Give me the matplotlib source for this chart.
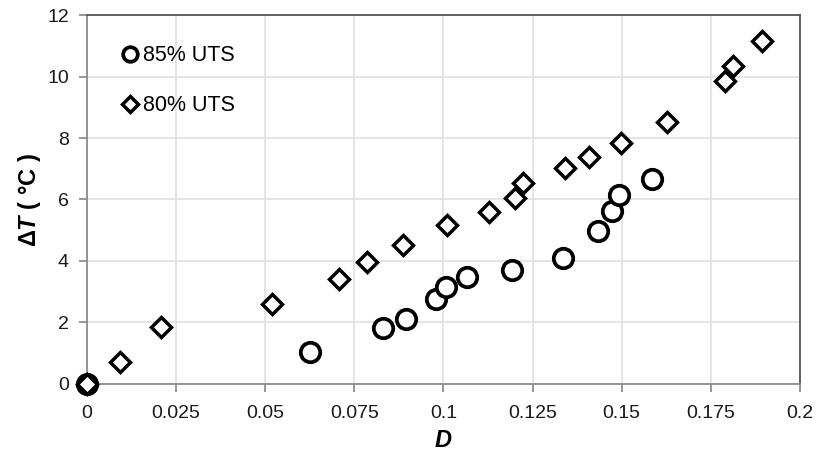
import matplotlib
matplotlib.use("Agg")
import matplotlib.pyplot as plt

# Data
d_85 = [0.0, 0.0626, 0.0830, 0.0895, 0.0980, 0.1006, 0.1067, 0.1193, 0.1335, 0.1434, 0.1472, 0.1492, 0.1586]
t_85 = [0.0, 1.04, 1.82, 2.11, 2.76, 3.14, 3.47, 3.69, 4.11, 4.98, 5.64, 6.15, 6.66]

d_80 = [0.0, 0.0093, 0.0209, 0.0518, 0.0707, 0.0785, 0.0886, 0.1009, 0.1128, 0.1201, 0.1224,
        0.1341, 0.1409, 0.1497, 0.1626, 0.1791, 0.1813, 0.1894]
t_80 = [0.0, 0.70, 1.84, 2.60, 3.40, 3.98, 4.52, 5.17, 5.60, 6.04, 6.55,
        7.01, 7.39, 7.85, 8.52, 9.85, 10.35, 11.16]

x_ticks = [0, 0.025, 0.05, 0.075, 0.1, 0.125, 0.15, 0.175, 0.2]
x_tick_labels = ["0", "0.025", "0.05", "0.075", "0.1", "0.125", "0.15", "0.175", "0.2"]
y_ticks = [0, 2, 4, 6, 8, 10, 12]
labels = ["85% UTS", "80% UTS"]

plt.rcParams['font.family'] = ['Liberation Sans', 'DejaVu Sans']
plt.rcParams['mathtext.fontset'] = 'custom'
plt.rcParams['mathtext.it'] = 'Liberation Sans:italic:bold'
plt.rcParams['mathtext.rm'] = 'Liberation Sans:bold'

fig = plt.figure(figsize=(8.2, 4.57), dpi=100)
ax = fig.add_axes([0.106, 0.16, 0.8695, 0.807])

ax.plot(d_85, t_85, linestyle='none', marker='o', markersize=14, markerfacecolor='white',
        markeredgecolor='black', markeredgewidth=2.7, label=labels[0], zorder=3, clip_on=False)
ax.plot(d_80, t_80, linestyle='none', marker='D', markersize=10.5, markerfacecolor='white',
        markeredgecolor='black', markeredgewidth=2.5, label=labels[1], zorder=4, clip_on=False)

ax.set_xlim(0, 0.2)
ax.set_ylim(0, 12)
ax.set_xticks(x_ticks)
ax.set_xticklabels(x_tick_labels)
ax.set_yticks(y_ticks)
ax.grid(True, color='#e3e3e3', linewidth=1.3)
ax.set_axisbelow(True)

for s in ['top', 'right']:
    ax.spines[s].set_color('#555555')
    ax.spines[s].set_linewidth(1.3)
for s in ['left', 'bottom']:
    ax.spines[s].set_color('#8c8c8c')
    ax.spines[s].set_linewidth(1.3)

ax.tick_params(axis='both', direction='out', length=6, width=1.3, color='#8c8c8c',
               labelsize=14, labelcolor='#1a1a1a')
ax.tick_params(axis='x', pad=9)
ax.tick_params(axis='y', pad=7)

ax.set_xlabel(r"$D$", fontsize=17, fontweight='bold', labelpad=5)
ax.set_ylabel(r"$\mathit{\Delta T}$ ( °C )", fontsize=17, fontweight='bold', labelpad=3)

leg = ax.legend(loc='upper left', frameon=False, fontsize=15.5, handletextpad=0.0,
                markerscale=0.75, labelspacing=1.35, borderaxespad=0.5, handlelength=1.2,
                borderpad=0.9)

fig.savefig("out.png", dpi=100)
